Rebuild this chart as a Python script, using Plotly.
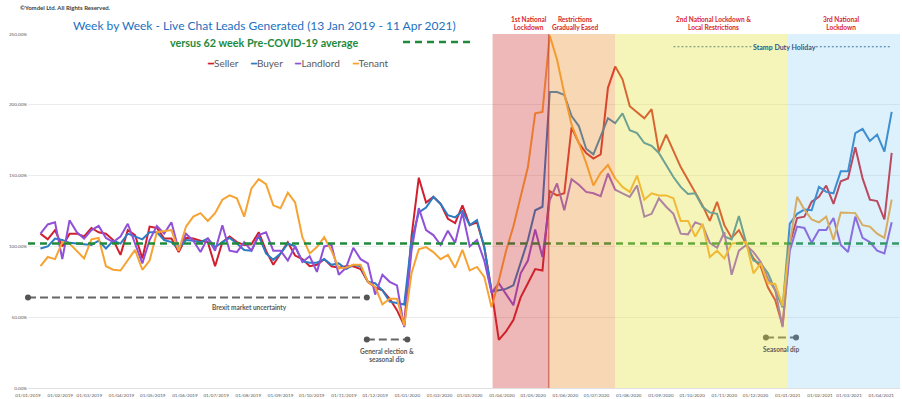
import pandas as pd
import plotly.graph_objects as go

# ---------------- data ----------------
START_WEEK = "2019-01-13"
N_WEEKS = 118
weeks = pd.date_range(START_WEEK, periods=N_WEEKS, freq="7D")

seller = [109, 105, 111.5, 100, 109, 109, 107, 113, 110, 109,
          104.5, 94, 111.5, 108, 91.5, 114, 113, 105.5, 105.5, 96,
          106, 105.5, 104, 103, 86, 103, 107, 103, 101, 101.5,
          110, 97, 87, 95, 103, 93.5, 91, 86, 87, 91,
          86, 85, 86, 86, 84, 75, 71, 69, 63, 55,
          44, 107, 148.5, 131, 135, 130, 119.5, 116.5, 129, 115,
          117, 99.5, 69, 34, 40, 48, 64, 74, 84, 83,
          139, 136, 137.5, 184, 173, 166, 162, 165, 212, 227,
          218, 199, 194.5, 190.5, 197, 167, 179, 167, 156, 147,
          137.5, 129, 118, 131.5, 115, 106, 111.5, 102, 91.5, 85.6,
          71, 62, 44, 102, 120, 121, 131.5, 135, 143, 130,
          146, 148, 170, 148, 133, 132, 119, 166]

buyer = [98.5, 100, 105.5, 104.5, 102.5, 102, 102, 101, 104, 98.5,
         104, 102, 109, 107, 105, 110, 110, 104.5, 103, 98.5,
         104.5, 104, 103, 105.5, 99.5, 103, 106, 102, 97.5, 97,
         107.5, 95, 90.5, 95, 102, 100, 89.5, 88.5, 88.5, 91,
         87, 88, 84, 87, 86, 75, 74, 69, 61, 60,
         59, 104, 124, 127.5, 135, 130, 122, 120.5, 125, 115,
         118.5, 99.5, 68, 69, 70, 72.5, 88, 104.5, 125.5, 128,
         209, 209, 207, 192, 185, 169, 165, 177.5, 190.5, 187,
         194, 182, 180, 173, 171, 166, 157.5, 149, 142, 137,
         137.5, 128, 124, 123, 107, 105, 121.5, 102.5, 90, 88,
         81, 69, 57, 116, 123, 126, 125.5, 142, 138.5, 137.5,
         153, 153, 180, 183, 174.5, 179, 167, 195]

landlord = [109, 115.5, 117, 91, 118.5, 110, 105.5, 111.5, 114.5, 106,
            103, 107, 116, 102, 88, 104.5, 114.5, 109, 117, 97.5,
            109, 104, 96, 106, 97, 115, 97, 96, 103, 97,
            108, 110, 97, 97, 90, 100, 89, 93, 82, 100,
            101, 80, 85, 99, 91, 88, 66, 80, 75, 72.5,
            43, 97, 127, 111.5, 108, 101, 111, 102.5, 124, 100,
            104.5, 90, 67, 74, 66, 58.5, 81, 90, 112, 92.5,
            132.5, 144.5, 125.5, 147.5, 143.5, 138.5, 137.5, 135.5, 151.5, 140,
            137.5, 135, 143, 121, 123, 134, 128, 123, 109, 108.5,
            117, 115, 102.5, 99, 110, 80, 97, 101, 96, 89,
            77, 69, 43, 97, 114, 113, 102.5, 111.5, 111.5, 120,
            101, 96, 121, 106, 103, 97, 95, 117]

tenant = [86, 92.5, 91, 103, 102, 97, 91.5, 105, 106, 86,
          83.5, 83, 90, 97.5, 83.5, 90, 110, 111, 111.5, 97,
          114, 121, 123.5, 118, 123.5, 133, 136, 134, 121, 141,
          147.5, 144, 129, 127, 138, 131, 106.5, 95, 99.5, 106.5,
          97, 84.5, 85, 87, 87, 75, 71.5, 59, 63, 63,
          44, 81, 98, 99.5, 96, 91, 94, 85, 97.5, 83,
          85.5, 78.5, 57, 76, 97, 114, 134, 156, 194, 195,
          249, 232, 208, 186, 173, 159, 143, 152, 157.5, 148,
          142, 138.5, 150, 133, 137.5, 136, 136, 134, 118, 118,
          107, 116, 92.5, 97, 91.5, 102, 102.5, 103, 81, 88,
          74, 73.5, 58, 102, 135, 126, 119, 117, 121, 104.5,
          124, 124, 123.5, 115, 114, 109, 106, 133]

series_names = ["Seller", "Buyer", "Landlord", "Tenant"]
series_values = [seller, buyer, landlord, tenant]
series_colors = ["#d0202e", "#2a7cc4", "#9150d8", "#f7a333"]

pre_covid_average = 102  # % level of the 62-week pre-COVID average

# period shading
period_starts = ["2020-03-23", "2020-05-16", "2020-07-19", "2021-01-01"]
period_ends = ["2020-05-16", "2020-07-19", "2021-01-01", "2021-04-19"]
period_colors = ["rgb(205,40,40)", "rgb(235,140,40)", "rgb(228,228,60)", "rgb(120,200,245)"]
period_opac = [0.33, 0.35, 0.36, 0.25]
period_labels = ["1st National<br>Lockdown", "Restrictions<br>Gradually Eased",
                 "2nd National Lockdown &<br>Local Restrictions", "3rd National<br>Lockdown"]

# dashed annotation markers
note_starts = ["2019-01-01", "2019-11-23", "2020-12-11"]
note_ends = ["2019-11-23", "2020-01-01", "2021-01-09"]
note_levels = [64, 34.2, 35.6]
note_texts = ["Brexit market uncertainty", "General election &<br>seasonal dip", "Seasonal dip"]

stamp_duty_segments = [("2020-09-13", "2020-11-27"), ("2021-01-28", "2021-04-11")]
stamp_duty_level = 241

X_RANGE = ["2019-01-01", "2021-04-19"]
Y_TICKS = [0, 50, 100, 150, 200, 250]

# ---------------- figure ----------------
FONT = "Lato, 'Open Sans', sans-serif"
fig = go.Figure()

for name, vals, col in zip(series_names, series_values, series_colors):
    fig.add_trace(go.Scatter(x=weeks, y=vals, name=name, mode="lines",
                             line=dict(color=col, width=2), showlegend=False))

for s, e, c, o in zip(period_starts, period_ends, period_colors, period_opac):
    fig.add_shape(type="rect", xref="x", yref="paper", x0=s, x1=e, y0=0, y1=1,
                  fillcolor=c, opacity=o, line_width=0, layer="above")
fig.add_shape(type="line", xref="x", yref="paper", x0=period_ends[0], x1=period_ends[0],
              y0=0, y1=1, line=dict(color="rgba(190,60,50,0.6)", width=1.5), layer="above")

fig.add_trace(go.Scatter(x=[X_RANGE[0], X_RANGE[1]], y=[pre_covid_average] * 2, mode="lines",
                         line=dict(color="#1f8a3b", width=2.5, dash="7px,5px"),
                         showlegend=False, hoverinfo="skip"))

for s, e, lvl in zip(note_starts, note_ends, note_levels):
    fig.add_trace(go.Scatter(x=[s, e], y=[lvl, lvl], mode="lines+markers",
                             line=dict(color="#666666", width=2, dash="8px,4px"),
                             marker=dict(color="#555555", size=6),
                             showlegend=False, hoverinfo="skip", cliponaxis=False))

for s, e in stamp_duty_segments:
    fig.add_trace(go.Scatter(x=[s, e], y=[stamp_duty_level] * 2, mode="lines",
                             line=dict(color="#2f5f8f", width=1.2, dash="2px,2px"),
                             showlegend=False, hoverinfo="skip"))

L, R, T, B = 28, 2, 34, 11
W, H = 902, 399
PW, PH = W - L - R, H - T - B


def px(xp):
    return (xp - L) / PW


def py(yp):
    return (H - B - yp) / PH


ann = []
ann.append(dict(text="<b>©Yomdel Ltd. All Rights Reserved.</b>", x=px(18), y=py(8), xanchor="left",
                font=dict(size=6, color="#404040", family=FONT)))
ann.append(dict(text="Week by Week - Live Chat Leads Generated (13 Jan 2019 - 11 Apr 2021)",
                x=px(264), y=py(25), font=dict(size=12, color="#2470c0", family=FONT)))
ann.append(dict(text="<b>versus 62 week Pre-COVID-19 average</b>",
                x=px(264), y=py(42), font=dict(size=10.8, color="#1f8a3b", family=FONT)))
legend_txt = "     ".join(
    f"<span style='color:{c}'>━</span>{n}" for n, c in zip(series_names, series_colors))
ann.append(dict(text=legend_txt, x=px(298), y=py(63), font=dict(size=10, color="#595959", family=FONT)))

label_x = [529, 575, 713, 841]
for t, xp in zip(period_labels, label_x):
    ann.append(dict(text=f"<b>{t}</b>", x=px(xp), y=py(23),
                    font=dict(size=6.5, color="#d9262b", family=FONT)))
ann.append(dict(text="<b>Stamp Duty Holiday</b>", x=px(784), y=py(47),
                font=dict(size=7, color="#2a5a8a", family=FONT)))

note_pos = [(249, 307), (387, 355), (781, 349)]
for t, (xp, yp) in zip(note_texts, note_pos):
    ann.append(dict(text=f"<b>{t}</b>", x=px(xp), y=py(yp),
                    font=dict(size=6.5, color="#595959", family=FONT)))

for a in ann:
    a.update(xref="paper", yref="paper", showarrow=False)
    a.setdefault("xanchor", "center")
    a.setdefault("yanchor", "middle")

fig.add_shape(type="line", xref="paper", yref="paper", x0=px(403), x1=px(474), y0=py(42), y1=py(42),
              line=dict(color="#1f8a3b", width=2.5, dash="7px,5px"), layer="above")

fig.update_layout(
    width=W, height=H,
    margin=dict(l=L, r=R, t=T, b=B, pad=0),
    paper_bgcolor="white", plot_bgcolor="white",
    font=dict(family=FONT, color="#595959"),
    annotations=ann,
    showlegend=False,
    xaxis=dict(type="date", range=X_RANGE, dtick="M1", tick0="2019-01-01",
               tickformat="%d/%m/%Y", tickangle=0, showgrid=False, zeroline=False,
               showline=False, ticks="", tickfont=dict(size=4.6, color="#595959"),
               ticklabelstandoff=3, automargin=False, fixedrange=True),
    yaxis=dict(range=[0, 250], tickvals=Y_TICKS, ticktext=[f"{v:.2f}%" for v in Y_TICKS],
               showgrid=True, gridcolor="#ececec", gridwidth=1, zeroline=True,
               zerolinecolor="#e0e0e0", zerolinewidth=1, showline=False,
               tickfont=dict(size=4.6, color="#595959"), automargin=False, ticks=""),
)

fig.write_html("out.html", config={"displayModeBar": False},
               post_script="document.body.style.margin='0px';document.body.style.overflow='hidden';")
